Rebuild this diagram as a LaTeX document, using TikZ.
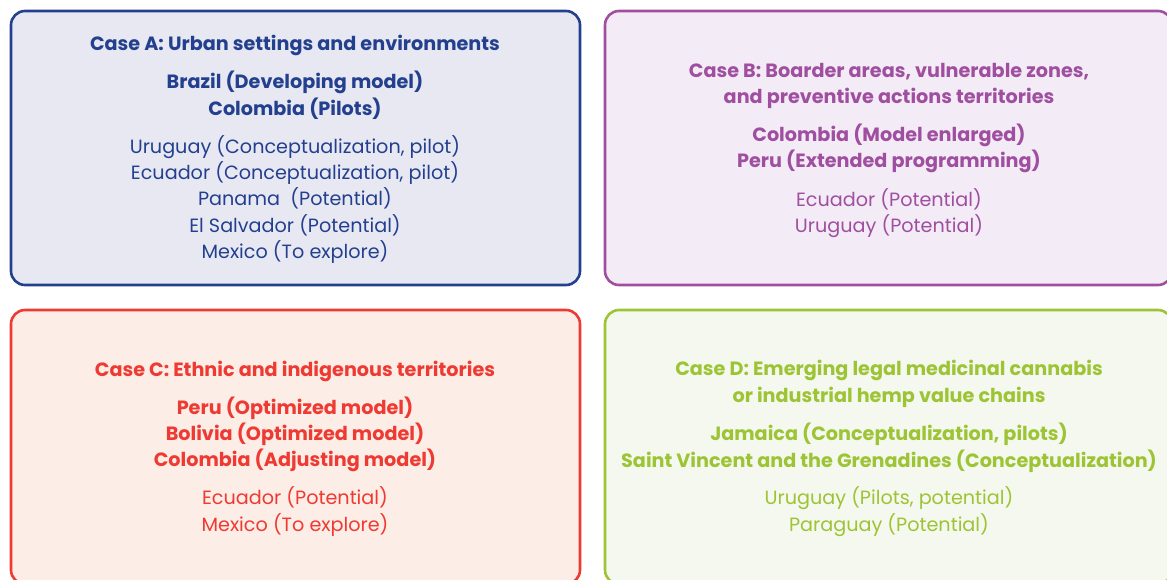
\documentclass[tikz,border=0pt]{standalone}
\usepackage{fontspec}
\setmainfont{Poppins}
\begin{document}
\begin{tikzpicture}[x=1pt,y=-1pt,
  casebox/.style={draw, line width=2.6pt, rounded corners=14pt, inner sep=0pt},
  txt/.style={inner sep=0pt, align=center, font=\fontsize{19.2}{26.3}\selectfont},
  hd/.style={txt, font=\fontsize{19.2}{26.3}\selectfont\bfseries}]
\definecolor{blueA}{HTML}{23408E}
\definecolor{fillA}{HTML}{E8E8F3}
\definecolor{purpB}{HTML}{A04FA0}
\definecolor{fillB}{HTML}{F3EBF6}
\definecolor{redC}{HTML}{EE3A32}
\definecolor{fillC}{HTML}{FCEDE6}
\definecolor{limeD}{HTML}{9CC434}
\definecolor{fillD}{HTML}{F5F8EE}
\useasboundingbox (0,0) rectangle (1167,579);
\clip (0,0) rectangle (1167,579);
% four case panels
\draw[casebox, draw=blueA, fill=fillA] (11,11) rectangle (580,285);
\draw[casebox, draw=purpB, fill=fillB] (605,11) rectangle (1172,285);
\draw[casebox, draw=redC, fill=fillC] (11,310) rectangle (580,584);
\draw[casebox, draw=limeD, fill=fillD] (605,310) rectangle (1172,584);
% Case A
\node[hd, text=blueA] (aTitle) at (295,45) {Case A: Urban settings and environments};
\node[hd, text=blueA] (aMain) at (295,95.3) {Brazil (Developing model)\\Colombia (Pilots)};
\node[txt, text=blueA] (aRest) at (295,199.3) {Uruguay (Conceptualization, pilot)\\Ecuador (Conceptualization, pilot)\\Panama\ \ (Potential)\\El Salvador (Potential)\\Mexico (To explore)};
% Case B
\node[hd, text=purpB] (bTitle) at (889,86) {Case B: Boarder areas, vulnerable zones,\\and preventive actions territories};
\node[hd, text=purpB] (bMain) at (889,148.3) {Colombia (Model enlarged)\\Peru (Extended programming)};
\node[txt, text=purpB] (bRest) at (889,213) {Ecuador (Potential)\\Uruguay (Potential)};
% Case C
\node[hd, text=redC] (cTitle) at (295,371) {Case C: Ethnic and indigenous territories};
\node[hd, text=redC] (cMain) at (295,434.3) {Peru (Optimized model)\\Bolivia (Optimized model)\\Colombia (Adjusting model)};
\node[txt, text=redC] (cRest) at (295,511.5) {Ecuador (Potential)\\Mexico (To explore)};
% Case D
\node[hd, text=limeD] (dTitle) at (889,384) {Case D: Emerging legal medicinal cannabis\\or industrial hemp value chains};
\node[hd, text=limeD] (dMain) at (889,447.8) {Jamaica (Conceptualization, pilots)\\Saint Vincent and the Grenadines (Conceptualization)};
\node[txt, text=limeD] (dRest) at (889,511.5) {Uruguay (Pilots, potential)\\Paraguay (Potential)};
\end{tikzpicture}
\end{document}
